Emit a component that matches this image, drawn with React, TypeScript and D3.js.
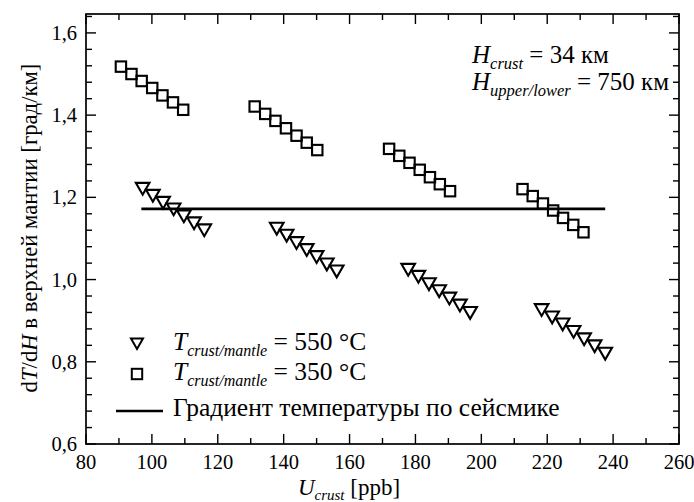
import React from "react";
import * as d3 from "d3";

// Squares: T_crust/mantle = 350 °C (four groups of 7)
const sqX = [
  90.6, 93.8, 96.9, 100.1, 103.2, 106.4, 109.5,
  131.2, 134.4, 137.5, 140.7, 143.9, 147.0, 150.2,
  172.0, 175.1, 178.2, 181.3, 184.4, 187.4, 190.5,
  212.5, 215.6, 218.7, 221.8, 224.8, 227.9, 231.0,
];
const sqY = [
  1.518, 1.5, 1.483, 1.466, 1.448, 1.431, 1.413,
  1.421, 1.403, 1.386, 1.368, 1.35, 1.333, 1.315,
  1.318, 1.301, 1.284, 1.267, 1.249, 1.232, 1.215,
  1.22, 1.203, 1.185, 1.168, 1.15, 1.133, 1.115,
];
// Triangles: T_crust/mantle = 550 °C
const trX = [
  97.2, 100.3, 103.4, 106.6, 109.7, 112.8, 115.9,
  137.9, 140.9, 143.9, 147.0, 150.0, 153.1, 156.1,
  177.8, 180.9, 184.1, 187.2, 190.3, 193.5, 196.6,
  218.3, 221.5, 224.7, 228.0, 231.2, 234.4, 237.6,
];
const trY = [
  1.223, 1.206, 1.189, 1.173, 1.156, 1.139, 1.122,
  1.126, 1.109, 1.091, 1.074, 1.057, 1.039, 1.022,
  1.026, 1.009, 0.991, 0.974, 0.956, 0.939, 0.921,
  0.928, 0.91, 0.893, 0.875, 0.857, 0.84, 0.822,
];
// Seismic gradient line
const gradX = [96.8, 237.6];
const gradY = [1.172, 1.172];

const xMajor = [80, 100, 120, 140, 160, 180, 200, 220, 240, 260];
const xMinor = [90, 110, 130, 150, 170, 190, 210, 230, 250];
const yMajor = [0.6, 0.8, 1.0, 1.2, 1.4, 1.6];
const yMinor = [0.64, 0.68, 0.72, 0.76, 0.84, 0.88, 0.92, 0.96, 1.04, 1.08, 1.12, 1.16, 1.24, 1.28, 1.32, 1.36, 1.44, 1.48, 1.52, 1.56, 1.64];
const yTickLabels = ["0,6", "0,8", "1,0", "1,2", "1,4", "1,6"];

const W = 694, H = 502;
const L = 86, R = 679, T = 14, B = 444;
const FONT = "Liberation Serif, Times New Roman, DejaVu Serif, serif";

const tri = "M-6.8,-5L6.8,-5L0,6.8Z";
const triLeg = "M-6,-4.4L6,-4.4L0,6Z";

export default function App() {
  const x = d3.scaleLinear().domain([80, 260]).range([L, R]);
  const y = d3.scaleLinear().domain([0.6, 1.646]).range([B, T]);
  const line = d3.line<number>().x((d) => x(gradX[d])).y((d) => y(gradY[d]));
  const MJ = 10, MN = 6;
  return (
    <svg width={W} height={H} style={{ position: "absolute", left: 0, top: 0, background: "#fff", fontFamily: FONT }}>
      <rect x={0} y={0} width={W} height={H} fill="#fff" />
      {/* ticks */}
      <g stroke="#000" strokeWidth={1.4}>
        {xMajor.map((v) => (
          <g key={"xm" + v}>
            <line x1={x(v)} x2={x(v)} y1={B} y2={B - MJ} />
            <line x1={x(v)} x2={x(v)} y1={T} y2={T + MJ} />
          </g>
        ))}
        {xMinor.map((v) => (
          <g key={"xn" + v}>
            <line x1={x(v)} x2={x(v)} y1={B} y2={B - MN} />
            <line x1={x(v)} x2={x(v)} y1={T} y2={T + MN} />
          </g>
        ))}
        {yMajor.map((v) => (
          <g key={"ym" + v}>
            <line x1={L} x2={L + MJ} y1={y(v)} y2={y(v)} />
            <line x1={R} x2={R - MJ} y1={y(v)} y2={y(v)} />
          </g>
        ))}
        {yMinor.map((v) => (
          <g key={"yn" + v}>
            <line x1={L} x2={L + MN} y1={y(v)} y2={y(v)} />
            <line x1={R} x2={R - MN} y1={y(v)} y2={y(v)} />
          </g>
        ))}
      </g>
      <rect x={L} y={T} width={R - L} height={B - T} fill="none" stroke="#000" strokeWidth={1.7} />
      {/* tick labels */}
      <g fontSize={20.5} fill="#000" style={{ fontFamily: FONT }}>
        {xMajor.map((v) => (
          <text key={"xl" + v} x={x(v)} y={469} textAnchor="middle">{v}</text>
        ))}
        {yMajor.map((v, i) => (
          <text key={"yl" + v} x={77} y={y(v) + 7} textAnchor="end">{yTickLabels[i]}</text>
        ))}
      </g>
      {/* gradient line */}
      <path d={line([0, 1]) || ""} stroke="#000" strokeWidth={2.6} fill="none" />
      {/* squares */}
      <g stroke="#000" strokeWidth={2.1} fill="none">
        {sqX.map((v, i) => (
          <rect key={"s" + i} x={x(v) - 5.2} y={y(sqY[i]) - 5.2} width={10.4} height={10.4} />
        ))}
      </g>
      {/* triangles */}
      <g stroke="#000" strokeWidth={2.1} fill="none">
        {trX.map((v, i) => (
          <path key={"t" + i} d={tri} transform={`translate(${x(v)},${y(trY[i])})`} />
        ))}
      </g>
      {/* annotation */}
      <g fill="#000" style={{ fontFamily: FONT }}>
        <text x={472} y={63} fontSize={25}>
          <tspan fontStyle="italic">H</tspan>
          <tspan fontStyle="italic" fontSize={16.5} dy={6}>crust</tspan>
          <tspan dy={-6}> = 34 км</tspan>
        </text>
        <text x={472} y={90} fontSize={25}>
          <tspan fontStyle="italic">H</tspan>
          <tspan fontStyle="italic" fontSize={16.5} dy={6}>upper/lower</tspan>
          <tspan dy={-6}> = 750 км</tspan>
        </text>
      </g>
      {/* legend */}
      <g stroke="#000" strokeWidth={2} fill="none">
        <path d={triLeg} transform="translate(137,343)" />
        <rect x={131.8} y={368.8} width={10.4} height={10.4} />
        <line x1={116} x2={163} y1={411} y2={411} strokeWidth={2.4} />
      </g>
      <g fill="#000" fontSize={25.5} style={{ fontFamily: FONT }}>
        <text x={173} y={350}>
          <tspan fontStyle="italic">T</tspan>
          <tspan fontStyle="italic" fontSize={16} dy={6}>crust/mantle</tspan>
          <tspan dy={-6}> = 550 °C</tspan>
        </text>
        <text x={173} y={380}>
          <tspan fontStyle="italic">T</tspan>
          <tspan fontStyle="italic" fontSize={16} dy={6}>crust/mantle</tspan>
          <tspan dy={-6}> = 350 °C</tspan>
        </text>
        <text x={173} y={416}>Градиент температуры по сейсмике</text>
      </g>
      {/* axis titles */}
      <text x={349} y={495} fontSize={23} textAnchor="middle" fill="#000" style={{ fontFamily: FONT }}>
        <tspan fontStyle="italic">U</tspan>
        <tspan fontStyle="italic" fontSize={15} dy={5}>crust</tspan>
        <tspan dy={-5}> [ppb]</tspan>
      </text>
      <text transform="translate(37,228) rotate(-90)" fontSize={22.7} textAnchor="middle" fill="#000" style={{ fontFamily: FONT }}>
        d<tspan fontStyle="italic">T</tspan>/d<tspan fontStyle="italic">H</tspan> в верхней мантии [град/км]
      </text>
    </svg>
  );
}
